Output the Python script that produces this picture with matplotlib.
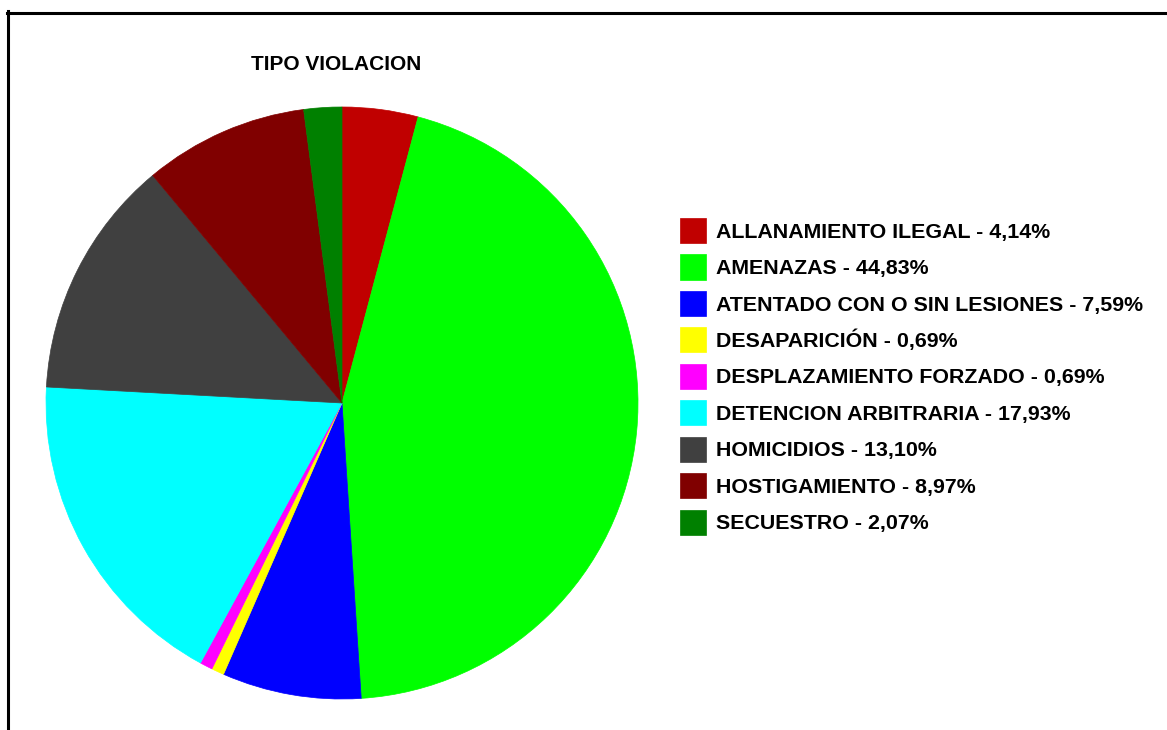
import matplotlib
matplotlib.use("Agg")
import matplotlib.pyplot as plt
from matplotlib.lines import Line2D

plt.rcParams["font.family"] = ["Liberation Sans", "DejaVu Sans"]

categories = [
    "ALLANAMIENTO ILEGAL",
    "AMENAZAS",
    "ATENTADO CON O SIN LESIONES",
    "DESAPARICIÓN",
    "DESPLAZAMIENTO FORZADO",
    "DETENCION ARBITRARIA",
    "HOMICIDIOS",
    "HOSTIGAMIENTO",
    "SECUESTRO",
]
percentages = [4.14, 44.83, 7.59, 0.69, 0.69, 17.93, 13.10, 8.97, 2.07]
colors = ["#C00000", "#00FF00", "#0000FF", "#FFFF00", "#FF00FF",
          "#00FFFF", "#404040", "#800000", "#008000"]

W, H = 1167, 730
fig = plt.figure(figsize=(W / 100, H / 100), dpi=100)

# pie axes: centre ~ (342, 403) px, radius ~ 296 px
r = 296
cx, cy = 342, 403
ax = fig.add_axes([(cx - r) / W, (H - cy - r) / H, 2 * r / W, 2 * r / H])
wedges, _ = ax.pie(percentages, colors=colors, startangle=90, counterclock=False,
                   wedgeprops=dict(linewidth=0), radius=1)
for w, c in zip(wedges, colors):
    w.set_edgecolor(c)
    w.set_linewidth(0.5)
ax.set_xlim(-1, 1)
ax.set_ylim(-1, 1)
ax.set_aspect("equal")
ax.axis("off")

fig.text(336 / W, 1 - 64 / H, "TIPO VIOLACION", ha="center", va="center",
         fontsize=15, fontweight="bold")

labels = [f"{c} - {p:.2f}%".replace(".", ",") for c, p in zip(categories, percentages)]
fig.legend(wedges, labels, loc="upper left", bbox_to_anchor=(680 / W, 1 - 218 / H),
           frameon=False, borderpad=0, borderaxespad=0,
           prop=dict(weight="bold", size=15.4),
           handlelength=1.21, handleheight=1.43, handletextpad=0.46, labelspacing=0.53)

# partial frame (top and left edges)
fig.add_artist(Line2D([6.5 / W, 1], [1 - 12.5 / H] * 2, color="black", lw=2.2))
fig.add_artist(Line2D([7.5 / W] * 2, [0, 1 - 11 / H], color="black", lw=2.2))

fig.savefig("out.png", dpi=100)
